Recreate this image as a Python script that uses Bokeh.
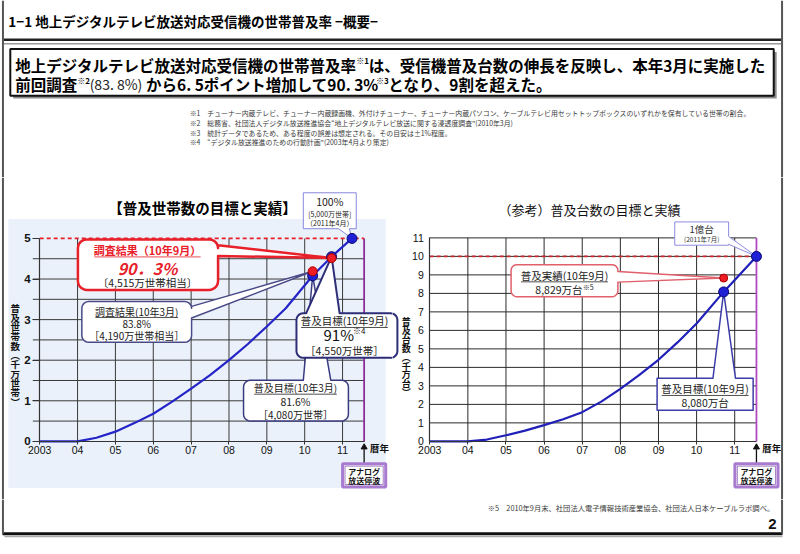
import math
from bokeh.plotting import figure
from bokeh.models import Range1d, LinearAxis, FixedTicker
from bokeh.layouts import column, row
from bokeh.embed import file_html
from bokeh.resources import INLINE
from bokeh.core.properties import value

# ---------------- data ----------------
years = [2003, 2004, 2005, 2006, 2007, 2008, 2009, 2010, 2011]
year_labels = ["2003", "04", "05", "06", "07", "08", "09", "10", "11"]
analog_end = 2011.57

# households (10 million households)
hh_x = [2003.0, 2004.0, 2004.5, 2005.0, 2005.5, 2006.0, 2006.5, 2007.0, 2007.5,
        2008.0, 2008.5, 2009.0, 2009.5, 2010.21, 2010.71, 2011.25]
hh_y = [0.0, 0.0, 0.09, 0.24, 0.45, 0.68, 0.98, 1.3, 1.63,
        2.0, 2.4, 2.83, 3.28, 4.08, 4.55, 5.0]
hh_target_x = [2010.21, 2010.71, 2011.25]
hh_target_y = [4.08, 4.55, 5.0]
hh_survey_x = [2010.21, 2010.71]
hh_survey_y = [4.19, 4.515]
hh_goal = 5.0
hh_ticks = [0, 1, 2, 3, 4, 5]
hh_grid = [0.5, 1.0, 1.5, 2.0, 2.5, 3.0, 3.5, 4.0, 4.5]

# receivers (10 million units)
units_x = [2003.0, 2004.0, 2004.5, 2005.0, 2005.5, 2006.0, 2006.5, 2007.0, 2007.5,
           2008.0, 2008.5, 2009.0, 2009.5, 2010.0, 2010.71, 2011.57]
units_y = [0.0, 0.0, 0.1, 0.33, 0.58, 0.88, 1.2, 1.58, 2.15,
           2.84, 3.6, 4.41, 5.35, 6.37, 8.08, 10.0]
units_target_x = [2010.71, 2011.57]
units_target_y = [8.08, 10.0]
units_actual_x = [2010.71]
units_actual_y = [8.829]
units_goal = 10.0
units_ticks = [0, 1, 2, 3, 4, 5, 6, 7, 8, 9, 10, 11]
units_grid = [1, 2, 3, 4, 5, 6, 7, 8, 9, 10, 11]

# ---------------- layout ----------------
W, H = 784, 538
SX, SY = W / 800.0, H / 554.0
HEAD_H, CHART_H = 177, 322
FOOT_H = H - HEAD_H - CHART_H
Y_HEAD = HEAD_H / SY
Y_FOOT = (HEAD_H + CHART_H) / SY

JP = "Noto Sans CJK JP"
LAT = "Liberation Sans"
PX = dict(x_range_name="px", y_range_name="px")


class Cal:
    def __init__(self, x0_ref, x0_val, kx, y0_ref, ky):
        self.x0_ref, self.x0_val, self.kx, self.y0_ref, self.ky = x0_ref, x0_val, kx, y0_ref, ky

    def px(self, x):
        return self.x0_ref + (x - self.x0_val) * self.kx

    def py(self, y):
        return self.y0_ref - y * self.ky

    def dx(self, ref):
        return self.x0_val + (ref - self.x0_ref) / self.kx

    def dy(self, ref):
        return (self.y0_ref - ref) / self.ky


def em_width(s):
    w = 0.0
    for ch in s:
        o = ord(ch)
        if o >= 0x2E80:
            w += 1.0
        elif ch.isdigit():
            w += 0.555
        elif ch == "%":
            w += 0.86
        elif ch in "().,[]: ":
            w += 0.3
        elif o > 0x2000:
            w += 1.0
        else:
            w += 0.55
    return w


def tw(s, size):
    return em_width(s) * size / SX


def make_fig(w, h, rx, ry, data_x=None, data_y=None, bg="white"):
    xr = Range1d(*data_x) if data_x else Range1d(rx[0], rx[1])
    yr = Range1d(*data_y) if data_y else Range1d(ry[1], ry[0])
    p = figure(width=w, height=h, x_range=xr, y_range=yr, x_axis_type=None, y_axis_type=None,
               toolbar_location=None, output_backend="svg", min_border=0,
               outline_line_color=None, background_fill_color=bg, border_fill_color=bg)
    p.extra_x_ranges = {"px": Range1d(rx[0], rx[1])}
    p.extra_y_ranges = {"px": Range1d(ry[1], ry[0])}
    return p


def txt(p, x, y, s, size, color="#222222", style="normal", align="center", font=JP):
    p.text(x=[x], y=[y], text=[s], text_font=value(font), text_font_size=f"{size}px",
           text_font_style=style, text_color=color, text_align=align,
           text_baseline="middle", **PX)


def uline(p, x, y, s, size, color="#222222"):
    w = tw(s, size)
    yy = y + size * 0.62 / SY
    p.segment(x0=[x - w / 2], y0=[yy], x1=[x + w / 2], y1=[yy], line_color=color,
              line_width=0.8, **PX)


def seq(p, x, y, parts):
    for s, size, style, color, dy in parts:
        txt(p, x, y + dy, s, size, color, style, "left")
        x += tw(s, size)
    return x


def bubble(p, x0, y0, x1, y1, r, line, lw, side=None, a=0, b=0, tip=(0, 0), n=5):
    xs, ys = [], []

    def P(x, y):
        xs.append(x)
        ys.append(y)

    def arc(cx, cy, a0, a1):
        for k in range(n + 1):
            t = math.radians(a0 + (a1 - a0) * k / n)
            P(cx + r * math.cos(t), cy + r * math.sin(t))

    arc(x0 + r, y0 + r, 180, 270)
    if side == "top":
        P(a, y0); P(*tip); P(b, y0)
    arc(x1 - r, y0 + r, 270, 360)
    if side == "right":
        P(x1, a); P(*tip); P(x1, b)
    arc(x1 - r, y1 - r, 0, 90)
    if side == "bottom":
        P(b, y1); P(*tip); P(a, y1)
    arc(x0 + r, y1 - r, 90, 180)
    if side == "left":
        P(x0, b); P(*tip); P(x0, a)
    p.patch(xs, ys, fill_color="white", line_color=line, line_width=lw, line_join="round", **PX)


def vtext(p, x, y0, s, size, step):
    n = len(s)
    p.text(x=[x] * n, y=[y0 + i * step for i in range(n)], text=list(s),
           text_font=value(JP), text_font_size=f"{size}px", text_font_style="bold",
           text_color="#111111", text_align="center", text_baseline="middle", **PX)


def add_axes(p, yticks, y_top, ystyle, ytick_out, ystand, ysize):
    xa = LinearAxis(fixed_location=0, ticker=FixedTicker(ticks=years),
                    major_label_overrides={yv: lab for yv, lab in zip(years, year_labels)},
                    bounds=(years[0], analog_end), axis_line_color="#333333", axis_line_width=1.2,
                    major_tick_line_color="#333333", major_tick_out=3, major_tick_in=0,
                    major_label_standoff=2, major_label_text_font=LAT,
                    major_label_text_font_size="10.5px", major_label_text_color="#111111")
    p.add_layout(xa, "below")
    ya = LinearAxis(fixed_location=years[0], ticker=FixedTicker(ticks=yticks),
                    bounds=(0, y_top), axis_line_color="#333333", axis_line_width=1.2,
                    major_tick_line_color="#333333", major_tick_out=ytick_out, major_tick_in=0,
                    major_label_standoff=ystand, major_label_text_font=LAT,
                    major_label_text_font_size=ysize, major_label_text_font_style=ystyle,
                    major_label_text_color="#111111")
    p.add_layout(ya, "left")


def arrow_box(p, ax):
    p.segment(x0=[ax], y0=[477], x1=[ax], y1=[462], line_color="#111111", line_width=1.3, **PX)
    p.scatter([ax], [460], marker="triangle", size=6, fill_color="#111111",
              line_color="#111111", **PX)
    txt(p, ax + 6, 461, "暦年", 9.5, "#111111", "bold", "left")
    bx0, bx1 = ax - 22, ax + 22
    p.quad(left=[bx0], right=[bx1], top=[477], bottom=[501], fill_color="white",
           line_color="#a87ad0", line_width=3, **PX)
    p.quad(left=[bx0 + 2.5], right=[bx1 - 2.5], top=[479.5], bottom=[498.5], fill_color=None,
           line_color="#7a4aa8", line_width=0.7, **PX)
    txt(p, ax, 484.5, "アナログ", 8, "#111111", "bold")
    txt(p, ax, 494, "放送停波", 8, "#111111", "bold")


def borders(p, y0, y1, left=True, right=True):
    if left:
        p.segment(x0=[2.5], y0=[y0], x1=[2.5], y1=[y1], line_color="#555555", line_width=2, **PX)
    if right:
        p.segment(x0=[797.5], y0=[y0], x1=[797.5], y1=[y1], line_color="#555555", line_width=2, **PX)


# ================= header =================
ph = make_fig(W, HEAD_H, (0, 800), (0, Y_HEAD))
txt(ph, 8, 21, "1−1  地上デジタルテレビ放送対応受信機の世帯普及率  −概要−", 13.5, "#000000", "bold", "left")
ph.segment(x0=[3], y0=[40.5], x1=[797], y1=[40.5], line_color="#222222", line_width=2.5, **PX)
ph.segment(x0=[3], y0=[44.5], x1=[797], y1=[44.5], line_color="#999999", line_width=1.5, **PX)
ph.quad(left=[13], right=[792], top=[53], bottom=[101], fill_color="#8c8c8c", line_color=None, **PX)
ph.quad(left=[10], right=[789], top=[50], bottom=[98], fill_color="white", line_color="#111111",
        line_width=2, **PX)
seq(ph, 15, 66, [("地上デジタルテレビ放送対応受信機の世帯普及率", 15.5, "bold", "#000000", 0),
                 ("※1", 8, "bold", "#000000", -4),
                 ("は、受信機普及台数の伸長を反映し、本年3月に実施した", 15.5, "bold", "#000000", 0)])
seq(ph, 15, 86, [("前回調査", 15.5, "bold", "#000000", 0),
                 ("※2", 8, "bold", "#000000", -4),
                 (" (83. 8%)", 14, "normal", "#222222", 0),
                 ("から6. 5ポイント増加して90. 3%", 15.5, "bold", "#000000", 0),
                 ("※3", 8, "bold", "#000000", -4),
                 ("となり、9割を超えた。", 15.5, "bold", "#000000", 0)])
notes = [
    "※1　チューナー内蔵テレビ、チューナー内蔵録画機、外付けチューナー、チューナー内蔵パソコン、ケーブルテレビ用セットトップボックスのいずれかを保有している世帯の割合。",
    "※2　総務省、社団法人デジタル放送推進協会“地上デジタルテレビ放送に関する浸透度調査”(2010年3月)",
    "※3　統計データであるため、ある程度の誤差は想定される。その目安は±1%程度。",
    "※4　“デジタル放送推進のための行動計画”(2003年4月より策定)",
]
for i, s in enumerate(notes):
    txt(ph, 193, 116 + 10 * i, s, 6.9, "#3a3a3a", "normal", "left")
borders(ph, 0, Y_HEAD)

# ================= left chart =================
L = Cal(40, 2003, 38.63, 454, 41.8)
pl = make_fig(392, CHART_H, (0, 400), (Y_HEAD, Y_FOOT),
              data_x=(L.dx(0), L.dx(400)), data_y=(L.dy(Y_FOOT), L.dy(Y_HEAD)))
pl.quad(left=[8], right=[393], top=[225], bottom=[502], fill_color="#eaf1fa", line_color=None, **PX)
txt(pl, 206, 213, "【普及世帯数の目標と実績】", 14.5, "#000000", "bold")

gx = years[1:]
pl.segment(x0=gx, y0=[0] * len(gx), x1=gx, y1=[hh_goal] * len(gx), line_color="#3a3a3a", line_width=1)
x_ext = L.dx(L.px(years[0]) - 7)
pl.segment(x0=[x_ext] * len(hh_grid), y0=hh_grid, x1=[analog_end] * len(hh_grid), y1=hh_grid,
           line_color="#3a3a3a", line_width=1)
pl.segment(x0=[analog_end], y0=[0], x1=[analog_end], y1=[hh_goal], line_color="#8e2c9a", line_width=1.8)
pl.segment(x0=[years[0]], y0=[hh_goal], x1=[analog_end], y1=[hh_goal], line_color="#e8202a",
           line_width=1.6, line_dash="4 3")
pl.line(hh_x, hh_y, line_color="#2424c8", line_width=2.2)

# callouts
t_apr11 = (L.px(hh_target_x[2]), L.py(hh_target_y[2]))
t_mar10 = (L.px(hh_target_x[0]), L.py(hh_target_y[0]))
t_sep10 = (L.px(hh_target_x[1]), L.py(hh_target_y[1]))
s_mar10 = (L.px(hh_survey_x[0]), L.py(hh_survey_y[0]))
s_sep10 = (L.px(hh_survey_x[1]), L.py(hh_survey_y[1]))

bubble(pl, 309, 198, 363, 235, 0, "#8888dd", 1, "bottom", 345, 356, t_apr11)
txt(pl, 336, 207, "100%", 10.5, "#222222")
txt(pl, 336, 220, "[5,000万世帯]", 7, "#222222")
txt(pl, 336, 229, "（2011年4月）", 7, "#222222")

bubble(pl, 79, 246, 222, 298, 9, "#e8202a", 2.5, "right", 252, 263, s_sep10)
txt(pl, 150, 257, "調査結果（10年9月）", 11, "#e8202a", "bold")
uline(pl, 150, 257, "調査結果（10年9月）", 11, "#e8202a")
txt(pl, 150, 275, "90．3%", 16, "#e8202a", "bold italic")
txt(pl, 150, 290, "〔4,515万世帯相当〕", 10.5, "#222222")

bubble(pl, 83, 310, 195, 352, 7, "#4a4a88", 1.5, "right", 315, 327, s_mar10)
txt(pl, 139, 320, "調査結果(10年3月)", 10, "#222222")
uline(pl, 139, 320, "調査結果(10年3月)", 10)
txt(pl, 139, 333, "83.8%", 10, "#222222")
txt(pl, 139, 345, "［4,190万世帯相当］", 10, "#222222")

bubble(pl, 248, 391, 355, 433, 7, "#3a3a80", 1.5, "top", 309, 337, t_mar10)
txt(pl, 301, 399, "普及目標(10年3月)", 10, "#222222")
uline(pl, 301, 399, "普及目標(10年3月)", 10)
txt(pl, 301, 413, "81.6%", 10.5, "#222222")
txt(pl, 301, 426, "［4,080万世帯］", 10, "#222222")

bubble(pl, 302, 322, 405, 368, 7, "#2e2e78", 2, "top", 312, 346, t_sep10)
txt(pl, 351, 330, "普及目標(10年9月)", 10.5, "#222222")
uline(pl, 351, 330, "普及目標(10年9月)", 10.5)
w91 = tw("91%", 15) + tw("※4", 8)
seq(pl, 351 - w91 / 2, 344, [("91%", 15, "normal", "#111111", 0), ("※4", 8, "normal", "#111111", -4)])
txt(pl, 351, 360, "［4,550万世帯］", 10.5, "#222222")

pl.scatter(hh_target_x, hh_target_y, size=10, fill_color="#1f1fd6", line_color="#0a0a70", line_width=1)
pl.scatter(hh_survey_x, hh_survey_y, size=9, fill_color="#ee1c25", line_color="#aa0000", line_width=1)

add_axes(pl, hh_ticks, hh_goal, "bold", 7, 2, "11.5px")
vtext(pl, 15, 317, "普及世帯数︵千万世帯︶", 9.5, 9.6)
arrow_box(pl, L.px(analog_end))
borders(pl, Y_HEAD, Y_FOOT, left=True, right=False)

# ================= right chart =================
R = Cal(438, 2003, 38.9, 454, 19.05)
pr = make_fig(392, CHART_H, (400, 800), (Y_HEAD, Y_FOOT),
              data_x=(R.dx(400), R.dx(800)), data_y=(R.dy(Y_FOOT), R.dy(Y_HEAD)))
txt(pr, 601, 215, "（参考）普及台数の目標と実績", 13, "#111111", "normal")
pr.segment(x0=gx, y0=[0] * len(gx), x1=gx, y1=[units_ticks[-1]] * len(gx), line_color="#2a2a2a", line_width=1)
pr.segment(x0=[years[0]] * len(units_grid), y0=units_grid, x1=[analog_end] * len(units_grid), y1=units_grid,
           line_color="#2a2a2a", line_width=1)
pr.segment(x0=[analog_end], y0=[0], x1=[analog_end], y1=[units_ticks[-1]], line_color="#b04cc0", line_width=1.8)
pr.segment(x0=[years[0]], y0=[units_goal], x1=[analog_end], y1=[units_goal], line_color="#c8282e",
           line_width=1.6, line_dash="4 3")
pr.line(units_x, units_y, line_color="#2020b8", line_width=2.2)

u_end = (R.px(units_target_x[1]), R.py(units_target_y[1]))
u_sep = (R.px(units_target_x[0]), R.py(units_target_y[0]))
a_sep = (R.px(units_actual_x[0]), R.py(units_actual_y[0]))

# continuation of the left chart's 91% callout box
bubble(pr, 302, 322, 405, 368, 7, "#2e2e78", 2)

bubble(pr, 688, 228, 743, 252, 0, "#8c8ce0", 1, "right", 243, 251, u_end)
txt(pr, 715.5, 235.5, "1億台", 9.5, "#333333")
txt(pr, 715.5, 246, "(2011年7月)", 6.5, "#333333")

bubble(pr, 521, 272, 630, 305, 6, "#e0606c", 1.5, "right", 279, 290, a_sep)
txt(pr, 575.5, 283, "普及実績(10年9月)", 10.5, "#222222")
uline(pr, 575.5, 283, "普及実績(10年9月)", 10.5)
w88 = tw("8,829万台", 10.5) + tw("※5", 7)
seq(pr, 575.5 - w88 / 2, 298, [("8,829万台", 10.5, "normal", "#222222", 0), ("※5", 7, "normal", "#222222", -3)])

bubble(pr, 670, 389, 768, 422, 0, "#3c3ca8", 1.5, "top", 727, 750, u_sep)
txt(pr, 719, 400, "普及目標(10年9月)", 10.5, "#222222")
uline(pr, 719, 400, "普及目標(10年9月)", 10.5)
txt(pr, 719, 414, "8,080万台", 10.5, "#222222")

pr.scatter(units_target_x, units_target_y, size=10, fill_color="#1f1fd6", line_color="#0a0a70", line_width=1)
pr.scatter(units_actual_x, units_actual_y, size=8, fill_color="#ee1c25", line_color="#aa0000", line_width=1)

add_axes(pr, units_ticks, units_ticks[-1], "normal", 0, 6, "10.5px")
vtext(pr, 414, 331, "普及台数︵千万台︶", 9, 9.1)
arrow_box(pr, R.px(analog_end))
borders(pr, Y_HEAD, Y_FOOT, left=False, right=True)

# ================= footer =================
pf = make_fig(W, FOOT_H, (0, 800), (Y_FOOT, 554))
txt(pf, 790, 523, "※5　2010年9月末、社団法人電子情報技術産業協会、社団法人日本ケーブルラボ調べ。",
    7.3, "#3a3a3a", "normal", "right")
txt(pf, 792, 539, "2", 15, "#111111", "bold", "right", LAT)
pf.segment(x0=[2], y0=[549], x1=[798], y1=[549], line_color="#111111", line_width=3, **PX)
pf.segment(x0=[4], y0=[552], x1=[798], y1=[552], line_color="#aaaaaa", line_width=1.5, **PX)
borders(pf, Y_FOOT, 549)

layout = column(ph, row(pl, pr), pf)
open("out.html", "w").write(file_html(layout, INLINE))
